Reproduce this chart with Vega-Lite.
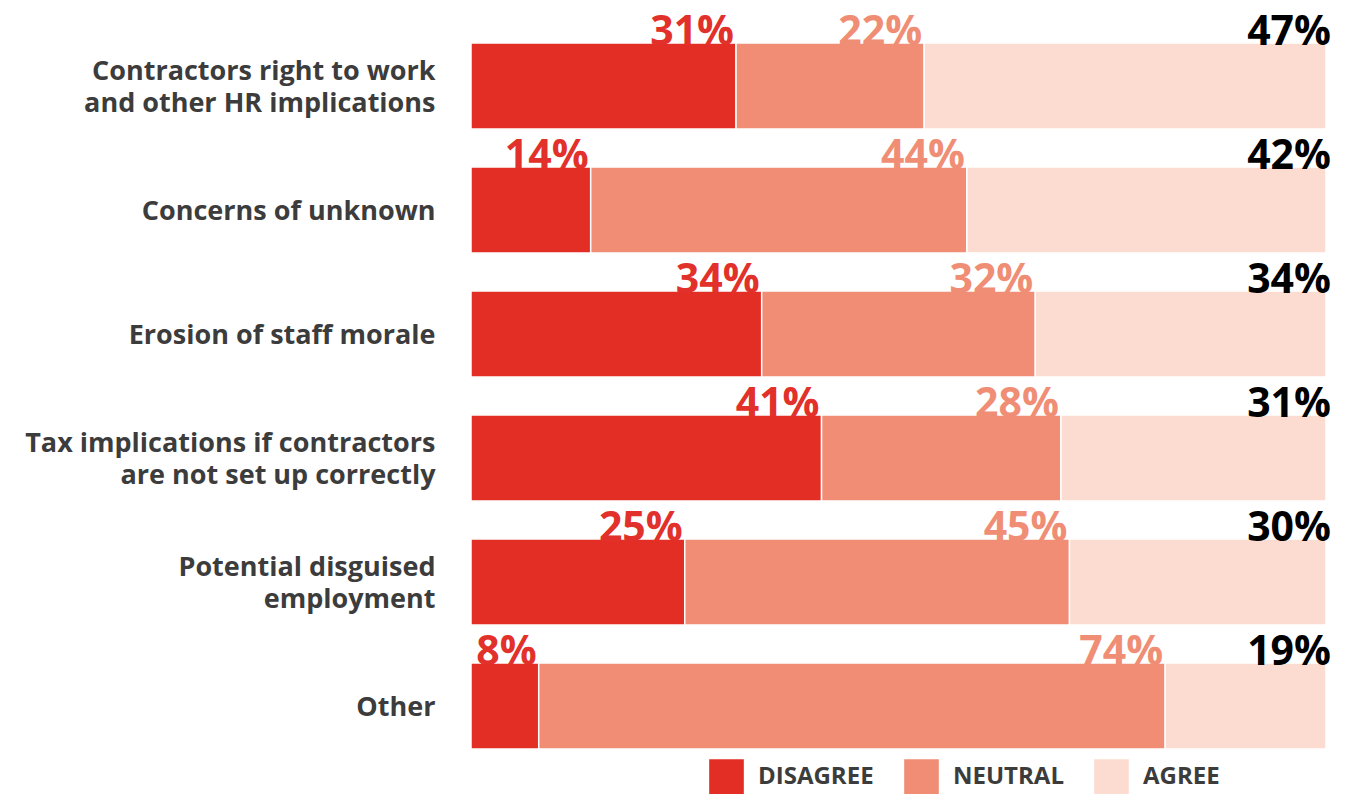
{
  "$schema": "https://vega.github.io/schema/vega-lite/v6.json",
  "width": 855,
  "height": 744,
  "autosize": {"type": "none"},
  "padding": {"left": 471, "top": 24, "right": 23, "bottom": 41},
  "background": "white",
  "config": {"view": {"stroke": null}, "font": "Open Sans"},
  "data": {
    "values": [
      {"cat": "Contractors right to work and other HR implications", "series": "DISAGREE", "order": 1, "value": 31, "label": "31%"},
      {"cat": "Contractors right to work and other HR implications", "series": "NEUTRAL", "order": 2, "value": 22, "label": "22%"},
      {"cat": "Contractors right to work and other HR implications", "series": "AGREE", "order": 3, "value": 47, "label": "47%"},
      {"cat": "Concerns of unknown", "series": "DISAGREE", "order": 1, "value": 14, "label": "14%"},
      {"cat": "Concerns of unknown", "series": "NEUTRAL", "order": 2, "value": 44, "label": "44%"},
      {"cat": "Concerns of unknown", "series": "AGREE", "order": 3, "value": 42, "label": "42%"},
      {"cat": "Erosion of staff morale", "series": "DISAGREE", "order": 1, "value": 34, "label": "34%"},
      {"cat": "Erosion of staff morale", "series": "NEUTRAL", "order": 2, "value": 32, "label": "32%"},
      {"cat": "Erosion of staff morale", "series": "AGREE", "order": 3, "value": 34, "label": "34%"},
      {"cat": "Tax implications if contractors are not set up correctly", "series": "DISAGREE", "order": 1, "value": 41, "label": "41%"},
      {"cat": "Tax implications if contractors are not set up correctly", "series": "NEUTRAL", "order": 2, "value": 28, "label": "28%"},
      {"cat": "Tax implications if contractors are not set up correctly", "series": "AGREE", "order": 3, "value": 31, "label": "31%"},
      {"cat": "Potential disguised employment", "series": "DISAGREE", "order": 1, "value": 25, "label": "25%"},
      {"cat": "Potential disguised employment", "series": "NEUTRAL", "order": 2, "value": 45, "label": "45%"},
      {"cat": "Potential disguised employment", "series": "AGREE", "order": 3, "value": 30, "label": "30%"},
      {"cat": "Other", "series": "DISAGREE", "order": 1, "value": 8, "label": "8%"},
      {"cat": "Other", "series": "NEUTRAL", "order": 2, "value": 74, "label": "74%"},
      {"cat": "Other", "series": "AGREE", "order": 3, "value": 19, "label": "19%"}
    ]
  },
  "transform": [
    {"stack": "value", "groupby": ["cat"], "sort": [{"field": "order"}], "offset": "normalize", "as": ["x0", "x1"]}
  ],
  "encoding": {
    "y": {
      "field": "cat",
      "type": "nominal",
      "sort": null,
      "title": null,
      "scale": {"paddingInner": 0.305, "paddingOuter": 0.1525},
      "axis": {
        "domain": false,
        "ticks": false,
        "labelPadding": 36,
        "labelFont": "Open Sans",
        "labelFontSize": 27,
        "labelFontWeight": "bold",
        "labelColor": "#3c3c3c",
        "labelLineHeight": 32,
        "labelLimit": 600,
        "labelOffset": {"condition": {"test": "datum.value == 'Contractors right to work and other HR implications' || datum.value == 'Tax implications if contractors are not set up correctly' || datum.value == 'Potential disguised employment'", "value": -14}, "value": 2},
        "labelExpr": "datum.value == 'Contractors right to work and other HR implications' ? ['Contractors right to work', 'and other HR implications'] : datum.value == 'Tax implications if contractors are not set up correctly' ? ['Tax implications if contractors', 'are not set up correctly'] : datum.value == 'Potential disguised employment' ? ['Potential disguised', 'employment'] : datum.value"
      }
    }
  },
  "layer": [
    {
      "mark": {"type": "bar", "stroke": "white", "strokeWidth": 1.5},
      "encoding": {
        "x": {"field": "x0", "type": "quantitative", "scale": {"domain": [0, 1], "nice": false}, "axis": null},
        "x2": {"field": "x1"},
        "color": {
          "field": "series",
          "type": "nominal",
          "sort": ["DISAGREE", "NEUTRAL", "AGREE"],
          "scale": {"domain": ["DISAGREE", "NEUTRAL", "AGREE"], "range": ["#E22E25", "#F08D74", "#FCDCD0"]},
          "legend": {
            "title": null,
            "orient": "none",
            "direction": "horizontal",
            "legendX": 238,
            "legendY": 735,
            "symbolType": "square",
            "symbolSize": 1200,
            "symbolStrokeWidth": 0,
            "labelFont": "Open Sans",
            "labelFontSize": 24,
            "labelFontWeight": "bold",
            "labelColor": "#3c3c3c",
            "labelOffset": 14,
            "columnPadding": 30,
            "labelLimit": 300
          }
        }
      }
    },
    {
      "transform": [{"filter": "datum.series != 'AGREE'"}],
      "mark": {"type": "text", "align": "right", "baseline": "alphabetic", "dy": 2, "dx": -2, "font": "Open Sans", "fontSize": 41, "fontWeight": "bold"},
      "encoding": {
        "x": {"field": "x1", "type": "quantitative", "scale": {"domain": [0, 1], "nice": false}, "axis": null},
        "y": {"field": "cat", "type": "nominal", "sort": null, "bandPosition": 0},
        "text": {"field": "label", "type": "nominal"},
        "color": {
          "field": "series",
          "type": "nominal",
          "scale": {"domain": ["DISAGREE", "NEUTRAL"], "range": ["#E2302A", "#F08E75"]},
          "legend": null
        }
      }
    },
    {
      "transform": [{"filter": "datum.series == 'AGREE'"}],
      "mark": {"type": "text", "align": "right", "baseline": "alphabetic", "dy": 2, "dx": 5, "font": "Open Sans", "fontSize": 41, "fontWeight": "bold", "color": "#000000"},
      "encoding": {
        "x": {"field": "x1", "type": "quantitative", "scale": {"domain": [0, 1], "nice": false}, "axis": null},
        "y": {"field": "cat", "type": "nominal", "sort": null, "bandPosition": 0},
        "text": {"field": "label", "type": "nominal"}
      }
    }
  ],
  "resolve": {"scale": {"color": "independent"}}
}
